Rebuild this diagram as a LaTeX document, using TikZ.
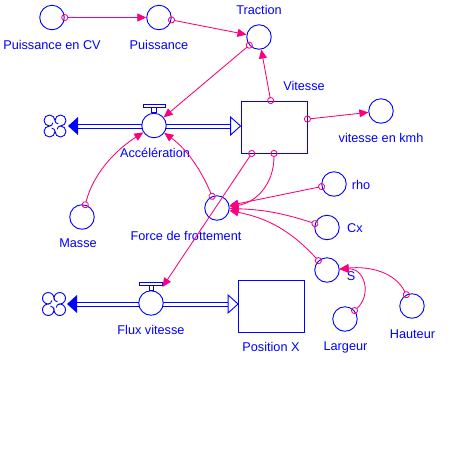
\documentclass[tikz,border=0pt]{standalone}
\usepackage{fontspec}
\setmainfont{Liberation Sans}
\usetikzlibrary{arrows.meta,calc}
\definecolor{fblue}{RGB}{0,0,255}
\definecolor{lnk}{RGB}{250,0,125}
\tikzset{
  aux/.style={circle,draw=fblue,fill=white,line width=0.9pt,minimum size=24.5pt,inner sep=0pt},
  stockbox/.style={draw=fblue,fill=white,line width=0.9pt,minimum width=66pt,minimum height=52pt,inner sep=0pt},
  lbl/.style={text=fblue,font=\fontsize{12.7}{14}\selectfont,inner sep=0pt},
  link/.style={draw=lnk,line width=0.85pt,{Circle[open,length=7pt,width=7pt]}-{Triangle[length=9pt,width=8pt]},shorten <=-3.5pt},
  pipe/.style={draw=fblue,line width=1pt,double=white,double distance=3pt},
  pics/cloudpic/.style={code={
    \draw[fblue,line width=0.9pt,fill=white] (0,-5) arc(0:-270:5) arc(270:0:5) arc(180:-90:5) arc(90:-180:5) -- cycle;
    \draw[fblue,line width=0.9pt] (0,-5) arc(180:90:3);
    \draw[fblue,line width=0.9pt] (5,0) arc(270:180:3);
    \draw[fblue,line width=0.9pt] (0,5) arc(0:-90:3);
    \draw[fblue,line width=0.9pt] (-5,0) arc(90:0:3);
  }},
}
\begin{document}
\begin{tikzpicture}[x=1pt,y=-1pt]
\useasboundingbox (0,0) rectangle (463,451);

% stocks
\node[stockbox] (vit) at (274,127) {};
\node[stockbox] (pos) at (271.5,306) {};

% flow 1
\coordinate (cl1) at (55,126);
\draw[pipe] ($(cl1)+(22,0)$) -- ($(vit.west |- cl1)+(-9,0)$);
\fill[fblue] ($(cl1)+(13,0)$) -- ++(10,-9) -- ++(0,18) -- cycle;
\draw[fblue,fill=white,line width=0.9pt] (vit.west |- cl1) -- ++(-10,-9) -- ++(0,18) -- cycle;
\pic[scale=1.1] at (cl1) {cloudpic};
\node[aux] (acc) at (154,125.5) {};
\draw[fblue,line width=0.9pt,fill=white] ($(acc.north)+(-2.5,0)$) rectangle ($(acc.north)+(2.5,-5)$);
\draw[fblue,line width=0.9pt,fill=white] ($(acc.north)+(-11,-5)$) rectangle ($(acc.north)+(11,-8)$);

% flow 2
\coordinate (cl2) at (54,304);
\draw[pipe] ($(cl2)+(22,0)$) -- ($(pos.west |- cl2)+(-9,0)$);
\fill[fblue] ($(cl2)+(13,0)$) -- ++(10,-9) -- ++(0,18) -- cycle;
\draw[fblue,fill=white,line width=0.9pt] (pos.west |- cl2) -- ++(-10,-9) -- ++(0,18) -- cycle;
\pic[scale=1.15] at (cl2) {cloudpic};
\node[aux] (flux) at (151,303) {};
\draw[fblue,line width=0.9pt,fill=white] ($(flux.north)+(-2,0)$) rectangle ($(flux.north)+(2,-5)$);
\draw[fblue,line width=0.9pt,fill=white] ($(flux.north)+(-11.5,-5)$) rectangle ($(flux.north)+(11,-8)$);
\coordinate (fluxtop) at ($(flux.center)+(11.5,-16)$);

% auxiliaries
\node[aux] (pcv) at (52,17.5) {};
\node[aux] (pui) at (159,17.5) {};
\node[aux] (tra) at (259,37) {};
\node[aux] (kmh) at (381,111) {};
\node[aux] (mas) at (82,217) {};
\node[aux] (frot) at (217,208) {};
\node[aux] (rho) at (334,184) {};
\node[aux] (cx) at (327,227.5) {};
\node[aux] (s) at (327,270) {};
\node[aux] (lar) at (345,319) {};
\node[aux] (hau) at (412,306) {};

% labels
\node[lbl] (lpcv) at (52,45) {Puissance en CV};
\node[lbl] (lpui) at (159,45) {Puissance};
\node[lbl] (ltra) at (259,10) {Traction};
\node[lbl] (lvit) at (304,86) {Vitesse};
\node[lbl] (lkmh) at (381,138) {vitesse en kmh};
\node[lbl] (lacc) at (155,153) {Accélération};
\node[lbl] (lmas) at (78,243) {Masse};
\node[lbl] (lfrot) at (186,236) {Force de frottement};
\node[lbl] (lflux) at (151,330) {Flux vitesse};
\node[lbl] (lpos) at (271,347) {Position X};
\node[lbl] (lrho) at (361,185) {rho};
\node[lbl] (lcx) at (355,228) {Cx};
\node[lbl] (ls) at (351,276) {S};
\node[lbl] (llar) at (345.5,347) {Largeur};
\node[lbl] (lhau) at (412.5,334) {Hauteur};

% connectors
\draw[link] (pcv) -- (pui);
\draw[link] (pui) -- (tra);
\draw[link] (tra) -- (acc);
\draw[link] ($(vit.north west)!0.45!(vit.north east)$) -- (tra);
\draw[link] ($(vit.north east)!0.35!(vit.south east)$) -- (kmh);
\draw[link] (mas) .. controls (95,168) and (122,146) .. (acc);
\draw[link] (frot) .. controls (202,172) and (188,150) .. (acc);
\draw[link] ($(vit.south west)!0.167!(vit.south east)$) -- (fluxtop);
\draw[link] (vit.south) .. controls (274,185) and (255,203) .. (frot);
\draw[link] (rho) -- (frot);
\draw[link] (cx) to[bend right=8] (frot);
\draw[link] (s) to[bend right=18] (frot);
\draw[link] (lar) .. controls (372,295) and (365,268) .. (s);
\draw[link] (hau) .. controls (395,272) and (370,266) .. (s);
\end{tikzpicture}
\end{document}
